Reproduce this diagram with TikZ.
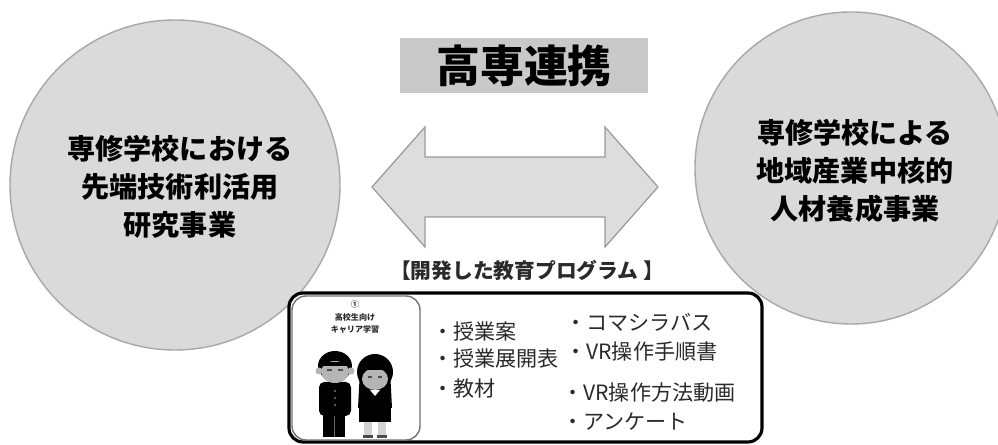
\documentclass[tikz,border=0pt]{standalone}
\usepackage{fontspec}
\setmainfont{Noto Sans CJK JP}
\newfontfamily\jp{Noto Sans CJK JP}
\definecolor{discfill}{HTML}{DADADA}
\definecolor{discline}{HTML}{A8A8A8}
\definecolor{titlefill}{HTML}{C9C9C9}
\definecolor{arrowfill}{HTML}{DDDDDD}
\definecolor{arrowline}{HTML}{9A9A9A}
\definecolor{inktext}{HTML}{2A2A2A}
\definecolor{facegray}{HTML}{B5B5B5}
\begin{document}
\begin{tikzpicture}[x=0.02cm,y=-0.02cm,
  disc/.style={circle,fill=discfill,draw=discline,line width=0.8pt,inner sep=0pt},
  disctext/.style={align=center,text=black,font=\jp\bfseries\fontsize{16}{21.5}\selectfont},
  titlebox/.style={fill=titlefill,draw=none,minimum width=248*0.02cm,minimum height=55*0.02cm,
    font=\jp\bfseries\fontsize{25}{30}\selectfont},
  item/.style={anchor=west,text=inktext,font=\jp\fontsize{12}{14}\selectfont,inner sep=0pt},
  tiny/.style={font=\jp\bfseries\fontsize{4.6}{5.5}\selectfont,inner sep=0pt,text=inktext}]
\useasboundingbox (0,0) rectangle (998,445);

% two project discs
\node[disc,minimum size=330*0.02cm] (left) at (175,185) {};
\node[disctext] (lefttext) at (180,187) {専修学校における\\先端技術利活用\\研究事業};
\node[disc,minimum size=312*0.02cm] (right) at (851,168) {};
\node[disctext] (righttext) at (855,171) {専修学校による\\地域産業中核的\\人材養成事業};

% title
\node[titlebox] (title) at (524,66) {高専連携};

% double-headed block arrow between the discs
\coordinate (ltip) at (372,187);
\coordinate (rtip) at (658,187);
\filldraw[fill=arrowfill,draw=arrowline,line width=0.7pt]
  (ltip) -- (425,127) -- (425,157) -- (605,157) -- (605,127) -- (rtip)
  -- (605,247) -- (605,217) -- (425,217) -- (425,247) -- cycle;

% programme label
\node[font=\jp\bfseries\fontsize{11.8}{14}\selectfont,text=inktext] (label) at (527,270)
  {【開発した教育プログラム 】};

% programme box
\draw[fill=white,draw=black,line width=1.8pt,rounded corners=14*0.02cm]
  (289,293) rectangle (762,442);
\coordinate (box) at (525,367);

% picture panel
\draw[fill=white,draw=black!55,line width=0.8pt,rounded corners=14*0.02cm]
  (292,296) rectangle (420,440);
\node[tiny] (num) at (355,304) {①};
\node[tiny] (cap1) at (355,317) {高校生向け};
\node[tiny] (cap2) at (355,329) {キャリア学習};

% boy
\fill[black] (323,413) rectangle (345,437);
\fill[black!60] (334,416) -- (334,437) -- (335,437) -- (335,416) -- cycle;
\fill[black,rounded corners=3] (319,382) rectangle (351,416);
\fill[black] (335,366) ellipse (17 and 15);
\fill[facegray] (335,372) ellipse (14 and 11);
\fill[facegray] (319,371) circle (3.5);
\fill[facegray] (351,371) circle (3.5);
\fill[black] (322,362) rectangle (348,366);
\foreach \by in {391,398,405}
  \fill[black!55] (335,\by) circle (1.2);
\draw[black!70,line width=0.6pt] (327,370) -- (332,370) (338,370) -- (343,370);

% girl
\fill[facegray!60] (364,420) rectangle (372,435);
\fill[facegray!60] (378,420) rectangle (386,435);
\fill[black!70] (363,435) rectangle (373,438);
\fill[black!70] (377,435) rectangle (387,438);
\fill[black] (360,370) -- (390,370) -- (392,408) -- (358,408) -- cycle;
\fill[black] (359,405) rectangle (391,422);
\fill[black] (375,372) ellipse (18 and 18);
\fill[facegray] (375,379) ellipse (13 and 11);
\fill[black] (360,362) rectangle (390,370);
\fill[white] (370,390) -- (375,396) -- (380,390) -- cycle;
\draw[black!70,line width=0.6pt] (368,377) -- (372,377) (378,377) -- (382,377);

% programme contents
\node[item] (i1) at (432,331) {・授業案};
\node[item] (i2) at (432,359) {・授業展開表};
\node[item] (i3) at (432,389) {・教材};
\node[item] (j1) at (565,322) {・コマシラバス};
\node[item] (j2) at (565,352) {・VR操作手順書};
\node[item] (j3) at (562,393) {・VR操作方法動画};
\node[item] (j4) at (562,422) {・アンケート};
\end{tikzpicture}
\end{document}
